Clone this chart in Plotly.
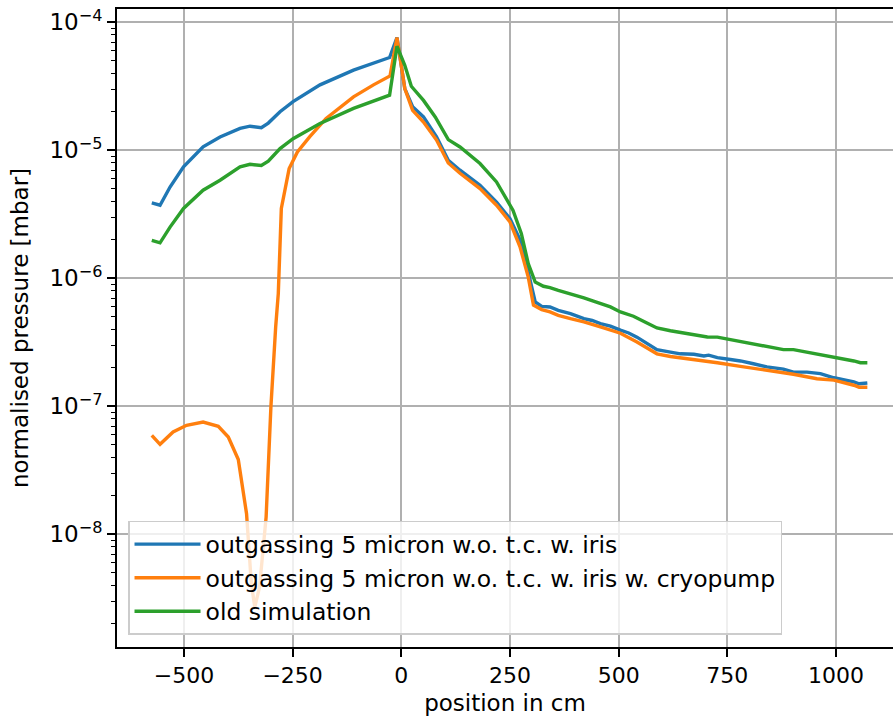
import plotly.graph_objects as go

# ---- data ----
x_blue = [-574, -555, -532, -501, -456, -417, -371, -348, -322, -306, -279, -249, -187, -110, -27, -10,
          8, 26, 51, 81, 108, 135, 181, 219, 250, 273, 289, 308, 323, 342, 361, 389, 420, 439, 458,
          481, 504, 523, 542, 565, 588, 619, 642, 673, 696, 707, 727, 757, 780, 810, 841, 879, 902,
          933, 964, 995, 1025, 1041, 1053, 1072]
y_blue = [3.88e-6, 3.72e-6, 5.16e-6, 7.41e-6, 1.062e-5, 1.27e-5, 1.48e-5, 1.54e-5, 1.50e-5, 1.63e-5,
          2.0e-5, 2.40e-5, 3.24e-5, 4.22e-5, 5.30e-5, 7.59e-5,
          3.03e-5, 2.19e-5, 1.82e-5, 1.27e-5, 8.36e-6, 6.98e-6, 5.33e-6, 3.94e-6, 2.92e-6, 2.0e-6,
          1.23e-6, 6.53e-7, 6.03e-7, 5.97e-7, 5.62e-7, 5.30e-7, 4.84e-7, 4.68e-7, 4.43e-7,
          4.22e-7, 3.93e-7, 3.74e-7, 3.47e-7, 3.09e-7, 2.77e-7, 2.65e-7, 2.57e-7, 2.55e-7, 2.47e-7,
          2.51e-7, 2.40e-7, 2.32e-7, 2.26e-7, 2.15e-7, 2.03e-7, 1.95e-7, 1.85e-7,
          1.85e-7, 1.80e-7, 1.67e-7, 1.60e-7, 1.55e-7, 1.50e-7, 1.52e-7]

x_orange = [-574, -555, -525, -494, -456, -421, -398, -375, -356, -345, -337, -326, -311, -300, -289,
            -283, -276, -258, -239, -211, -173, -110, -64, -26, -10,
            8, 26, 51, 81, 108, 135, 181, 219, 250, 273, 292, 304, 323, 342, 361, 389, 420, 458,
            504, 542, 588, 619, 673, 727, 780, 841, 902, 956, 995, 1041, 1053, 1072]
y_orange = [5.93e-8, 5.05e-8, 6.31e-8, 7.11e-8, 7.53e-8, 6.98e-8, 5.75e-8, 3.84e-8, 1.45e-8, 4.12e-9,
            2.70e-9, 3.89e-9, 1.36e-8, 9.89e-8, 4.17e-7,
            7.59e-7, 3.51e-6, 7.19e-6, 9.70e-6, 1.27e-5, 1.77e-5, 2.61e-5, 3.24e-5, 3.80e-5, 7.59e-5,
            3.03e-5, 2.05e-5, 1.66e-5, 1.20e-5, 7.94e-6, 6.61e-6, 5.01e-6, 3.72e-6, 2.75e-6, 1.76e-6,
            1.02e-6, 6.17e-7, 5.69e-7, 5.46e-7, 5.13e-7, 4.84e-7, 4.57e-7, 4.17e-7,
            3.72e-7, 3.18e-7, 2.57e-7, 2.45e-7, 2.32e-7, 2.19e-7, 2.05e-7, 1.91e-7, 1.78e-7, 1.64e-7,
            1.60e-7, 1.46e-7, 1.41e-7, 1.41e-7]

x_green = [-574, -555, -532, -501, -456, -417, -371, -348, -322, -306, -279, -249, -187, -110, -27, -10,
           8, 23, 51, 78, 108, 135, 181, 219, 257, 276, 292, 308, 327, 342, 361, 389, 420, 447, 481,
           504, 534, 565, 588, 619, 673, 704, 727, 765, 803, 841, 879, 902, 933, 964, 995, 1025,
           1041, 1056, 1072]
y_green = [1.98e-6, 1.89e-6, 2.51e-6, 3.51e-6, 4.87e-6, 5.83e-6, 7.41e-6, 7.76e-6, 7.59e-6, 8.20e-6,
           1.03e-5, 1.23e-5, 1.62e-5, 2.12e-5, 2.69e-5, 6.49e-5,
           4.61e-5, 3.16e-5, 2.45e-5, 1.82e-5, 1.21e-5, 1.06e-5, 7.87e-6, 5.65e-6, 3.39e-6, 2.24e-6,
           1.30e-6, 9.33e-7, 8.66e-7, 8.45e-7, 8.05e-7, 7.59e-7, 7.02e-7, 6.53e-7, 5.97e-7,
           5.46e-7, 5.05e-7, 4.47e-7, 4.09e-7, 3.89e-7, 3.59e-7, 3.48e-7, 3.47e-7, 3.28e-7, 3.09e-7,
           2.95e-7, 2.77e-7, 2.77e-7, 2.65e-7, 2.54e-7, 2.40e-7, 2.32e-7,
           2.26e-7, 2.19e-7, 2.19e-7]

names = ["outgassing 5 micron w.o. t.c. w. iris",
         "outgassing 5 micron w.o. t.c. w. iris w. cryopump",
         "old simulation"]
colors = ["#1f77b4", "#ff7f0e", "#2ca02c"]
x_ticks = [-500, -250, 0, 250, 500, 750, 1000]
y_exponents = [-8, -7, -6, -5, -4]
y_ticks = [10.0 ** e for e in y_exponents]
y_ticktext = ["10<sup>\u2212%d</sup>" % (-e) for e in y_exponents]
minor_mult = [2, 3, 4, 5, 6, 7, 8, 9]
y_minor = [m * 10.0 ** e for e in [-9] + y_exponents for m in minor_mult]

FONT = "DejaVu Sans, Liberation Sans, sans-serif"

fig = go.Figure()
for xs, ys, nm, c in zip([x_blue, x_orange, x_green], [y_blue, y_orange, y_green], names, colors):
    fig.add_trace(go.Scatter(x=xs, y=ys, mode="lines", name=nm,
                             line=dict(color=c, width=3.4)))

fig.update_layout(
    width=893, height=718,
    margin=dict(l=117, r=0, t=9, b=71),
    paper_bgcolor="white", plot_bgcolor="white",
    font=dict(family=FONT, size=22, color="black"),
    legend=dict(x=0.0142, y=0.019, xanchor="left", yanchor="bottom",
                bgcolor="rgba(255,255,255,0.8)", bordercolor="#cccccc", borderwidth=1.5,
                font=dict(size=23.5), tracegroupgap=0, itemwidth=66),
    showlegend=True,
)
fig.update_xaxes(
    range=[-654, 1131], tickvals=x_ticks, ticks="outside", ticklen=8, tickwidth=1.8,
    tickcolor="black", showline=True, linecolor="black", linewidth=1.8, mirror=True,
    showgrid=True, gridcolor="#b0b0b0", gridwidth=1.8, zeroline=False,
    title=dict(text="position in cm", font=dict(size=23), standoff=8),
    tickfont=dict(size=22),
)
fig.update_yaxes(
    type="log", range=[-8.88, -3.897], tickvals=y_ticks, ticktext=y_ticktext,
    ticks="outside", ticklen=8, tickwidth=1.8, tickcolor="black",
    showline=True, linecolor="black", linewidth=1.8, mirror=False,
    showgrid=True, gridcolor="#b0b0b0", gridwidth=1.8, zeroline=False,
    minor=dict(ticks="outside", ticklen=4.5, tickwidth=1.3, tickcolor="black",
               tickvals=y_minor, showgrid=False),
    title=dict(text="normalised pressure [mbar]", font=dict(size=23), standoff=14),
    tickfont=dict(size=23),
)

fig.write_html("out.html")
